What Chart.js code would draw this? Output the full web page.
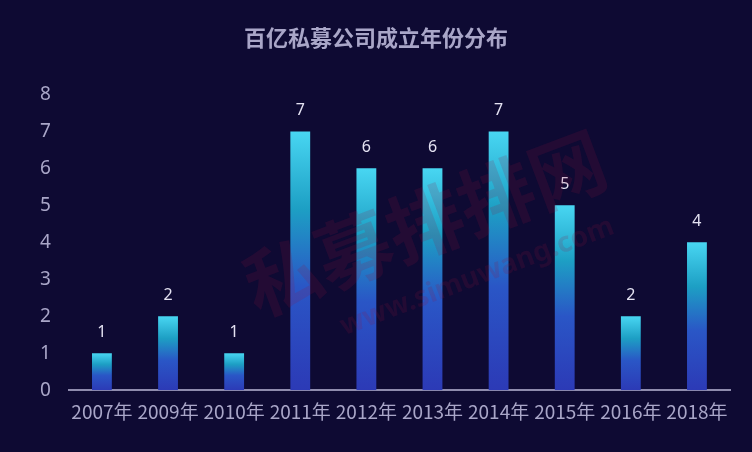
<!DOCTYPE html>
<html>
<head>
<meta charset="utf-8">
<script src="https://cdn.jsdelivr.net/npm/chart.js@4"></script>
<style>
  html, body { margin: 0; padding: 0; background: #0e0a33; }
  #wrap { width: 752px; height: 452px; position: relative; }
</style>
</head>
<body>
<div id="wrap"><canvas id="chart"></canvas></div>
<script>
// data
const years = ['2007年', '2009年', '2010年', '2011年', '2012年', '2013年', '2014年', '2015年', '2016年', '2018年'];
const counts = [1, 2, 1, 7, 6, 6, 7, 5, 2, 4];
const yTicks = [0, 1, 2, 3, 4, 5, 6, 7, 8];

// gradient for each bar, from its own top to base
function barFill(c) {
  const ch = c.chart;
  if (!ch.chartArea) return '#2c3bb8';
  const ys = ch.scales.y;
  const top = ys.getPixelForValue(c.raw);
  const base = ys.getPixelForValue(0);
  const g = ch.ctx.createLinearGradient(0, top, 0, base);
  g.addColorStop(0, '#48d6f2');
  g.addColorStop(0.3, '#1d9fc4');
  g.addColorStop(0.6, '#2a56c6');
  g.addColorStop(1, '#2c3ab6');
  return g;
}

const labelsOnTop = {
  id: 'labelsOnTop',
  afterDatasetsDraw(ch) {
    const c = ch.ctx;
    const meta = ch.getDatasetMeta(0);
    c.save();
    c.fillStyle = '#e4e2f2';
    c.font = '16px "Noto Sans", sans-serif';
    c.textAlign = 'center';
    c.textBaseline = 'bottom';
    meta.data.forEach((b, i) => c.fillText(counts[i], b.x, b.y - 13));
    c.restore();
  }
};

const watermark = {
  id: 'watermark',
  afterDatasetsDraw(ch) {
    const c = ch.ctx;
    c.save();
    c.translate(435, 250);
    c.rotate(-0.36);
    c.textAlign = 'center';
    c.fillStyle = 'rgba(150, 20, 60, 0.16)';
    c.font = 'bold 76px "Noto Sans CJK SC", sans-serif';
    c.fillText('私募排排网', 0, 0);
    c.font = 'bold 28px "Noto Sans", sans-serif';
    c.fillText('www.simuwang.com', 30, 48);
    c.restore();
  }
};

new Chart(document.getElementById('chart'), {
  type: 'bar',
  data: {
    labels: years,
    datasets: [{
      data: counts,
      backgroundColor: barFill,
      borderWidth: 0,
      barPercentage: 0.3,
      categoryPercentage: 1
    }]
  },
  options: {
    responsive: true,
    maintainAspectRatio: false,
    animation: false,
    layout: { padding: { left: 22, right: 22, top: 8, bottom: 19 } },
    plugins: {
      legend: { display: false },
      tooltip: { enabled: false },
      title: {
        display: true,
        text: '百亿私募公司成立年份分布',
        color: '#a9a6c8',
        font: { size: 22, weight: 'bold', family: '"Noto Sans CJK SC", sans-serif' },
        padding: { top: 16, bottom: 44 }
      }
    },
    scales: {
      x: {
        grid: { display: false, drawTicks: false },
        border: { color: '#8f8cae', width: 2 },
        ticks: {
          color: '#a9a6c8',
          font: { size: 19, family: '"Noto Sans CJK SC", sans-serif' },
          padding: 10,
          maxRotation: 0,
          autoSkip: false
        }
      },
      y: {
        min: 0,
        max: 8,
        afterBuildTicks: s => { s.ticks = yTicks.map(v => ({ value: v })); },
        grid: { display: false, drawTicks: false },
        border: { display: false },
        ticks: {
          color: '#a9a6c8',
          font: { size: 19, family: '"Noto Sans", sans-serif' },
          padding: 18
        }
      }
    }
  },
  plugins: [labelsOnTop, watermark]
});
</script>
</body>
</html>
